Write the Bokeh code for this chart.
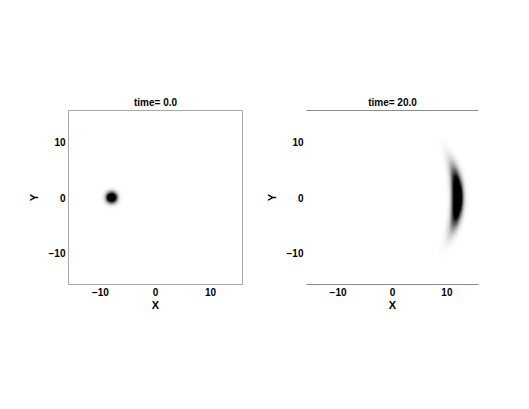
import numpy as np
from bokeh.plotting import figure
from bokeh.layouts import row
from bokeh.models import LinearColorMapper, FixedTicker, LinearAxis, Range1d
from bokeh.palettes import Greys256
from bokeh.embed import file_html
from bokeh.resources import INLINE

# ---- data ----
times = ["0.0", "20.0"]
x_limits = [-15.8, 15.8]
y_limits = [-15.8, 15.8]
tick_values = [-10, 0, 10]
tick_labels = ["\u221210", "0", "10"]

# blob at time 0: centre and width
blob_center = [-8.0, 0.0]
blob_sigma = 0.62
# crescent at time 20: arc centre, arc radius, radial width, vertical spread
arc_center = [-8.5, 0.0]
arc_radius = 20.5
arc_radial_sigma = 0.62
arc_vertical_sigma = 3.2

n = 240
xs = np.linspace(x_limits[0], x_limits[1], n)
ys = np.linspace(y_limits[0], y_limits[1], n)
X, Y = np.meshgrid(xs, ys)

field0 = np.exp(-((X - blob_center[0]) ** 2 + (Y - blob_center[1]) ** 2) / (2 * blob_sigma ** 2))
R = np.sqrt((X - arc_center[0]) ** 2 + (Y - arc_center[1]) ** 2)
field1 = np.exp(-((R - arc_radius) ** 2) / (2 * arc_radial_sigma ** 2)) * \
    np.exp(-(Y ** 2) / (2 * arc_vertical_sigma ** 2))
field1 = np.where(X > arc_center[0], field1, 0.0)

fields = [field0, field1]

FONT = "Liberation Sans"
GRAY = "#8c8c8c"

# panel geometry: (width, border_left, border_right)
geom = [(246, 68, 4), (234, 60, 2)]


def make_panel(idx):
    w, bl, br = geom[idx]
    p = figure(width=w, height=324,
               x_range=Range1d(*x_limits), y_range=Range1d(*y_limits),
               output_backend="svg", toolbar_location=None,
               min_border_left=bl, min_border_right=br,
               min_border_top=110, min_border_bottom=40,
               title="time= " + times[idx])
    p.title.align = "center"
    p.title.text_font = FONT
    p.title.text_font_size = "10px"
    p.title.text_font_style = "bold"
    p.title.text_color = "black"
    p.title.standoff = 6
    mapper = LinearColorMapper(palette=list(reversed(Greys256)), low=0.0, high=0.5)
    p.image(image=[fields[idx]], x=x_limits[0], y=y_limits[0],
            dw=x_limits[1] - x_limits[0], dh=y_limits[1] - y_limits[0],
            color_mapper=mapper)
    p.grid.visible = False
    for ax in (p.xaxis[0], p.yaxis[0]):
        ax.ticker = FixedTicker(ticks=tick_values)
        ax.major_label_overrides = {v: l for v, l in zip(tick_values, tick_labels)}
        ax.major_tick_line_color = None
        ax.minor_tick_line_color = None
        ax.major_tick_out = 0
        ax.major_tick_in = 0
        ax.major_label_standoff = 3
        ax.major_label_text_font = FONT
        ax.major_label_text_font_size = "10px"
        ax.major_label_text_font_style = "bold"
        ax.major_label_text_color = "black"
        ax.axis_label_text_font = FONT
        ax.axis_label_text_font_size = "11px"
        ax.axis_label_text_font_style = "bold"
        ax.axis_label_text_color = "black"
    p.xaxis.axis_label = "X"
    p.yaxis.axis_label = "Y"
    p.xaxis.axis_label_standoff = 0
    p.yaxis.axis_label_standoff = 6
    p.yaxis.major_label_orientation = "horizontal"
    if idx == 0:
        p.outline_line_color = GRAY
        p.outline_line_width = 1
        p.xaxis.axis_line_color = None
        p.yaxis.axis_line_color = None
    else:
        p.outline_line_color = None
        p.yaxis.axis_line_color = None
        p.xaxis.axis_line_color = GRAY
        top = LinearAxis(ticker=FixedTicker(ticks=[]), major_label_text_font_size="0px",
                         major_tick_line_color=None, minor_tick_line_color=None,
                         axis_line_color=GRAY)
        top.major_label_standoff = 0
        p.add_layout(top, "above")
    return p


p = row(make_panel(0), make_panel(1))
open("out.html", "w").write(file_html(p, INLINE))
